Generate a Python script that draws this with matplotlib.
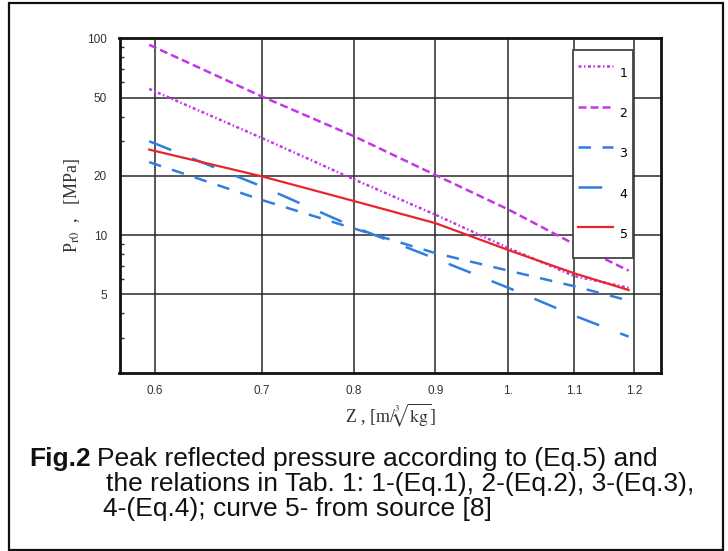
import numpy as np
import matplotlib.pyplot as plt
from matplotlib.ticker import FixedLocator, FixedFormatter, NullFormatter
from matplotlib.patches import Rectangle

plt.rcParams['mathtext.fontset'] = 'stix'

# Z values and peak reflected pressure [MPa]
z = [0.595, 0.7, 0.8, 0.9, 1.0, 1.1, 1.19]
p1 = [55.3, 31.2, 19.2, 12.7, 8.6, 6.2, 5.4]
p2 = [92.7, 50.7, 31.8, 20.2, 13.5, 9.0, 6.6]
p3 = [23.5, 15.1, 10.8, 8.1, 6.6, 5.5, 4.65]
p4 = [30.0, 17.7, 11.0, 7.6, 5.4, 3.9, 3.05]
p5 = [27.2, 19.9, 14.9, 11.5, 8.4, 6.4, 5.26]

xticks = [0.6, 0.7, 0.8, 0.9, 1.0, 1.1, 1.2]
xlabels = ['0.6', '0.7', '0.8', '0.9', '1.', '1.1', '1.2']
yticks = [5, 10, 20, 50, 100]
ylabels = ['5', '10', '20', '50', '100']
yminor = [2, 3, 4, 6, 7, 8, 9, 30, 40, 60, 70, 80, 90]

W, H = 728, 551
fig = plt.figure(figsize=(W / 100, H / 100), dpi=100)
ax = fig.add_axes([119.5 / W, 1 - 372.7 / H, (661 - 119.5) / W, (372.7 - 38.3) / H])

mag = '#c535e8'
blue = '#2f7ee0'
red = '#e8252a'
lw = 1.8
ax.plot(z, p1, color=mag, lw=lw, dashes=(1.2, 1.0, 0.6, 1.0), label='1')
ax.plot(z, p2, color=mag, lw=lw, dashes=(3.2, 1.6), label='2')
ax.plot(z, p3, color=blue, lw=lw, dashes=(5.0, 4.6), label='3')
ax.plot(z, p4, color=blue, lw=lw, dashes=(9.5, 9.0), label='4')
ax.plot(z, p5, color=red, lw=1.6, label='5')

ax.set_xscale('log')
ax.set_yscale('log')
ax.set_xlim(0.57, 1.247)
ax.set_ylim(2.0, 100)

ax.xaxis.set_major_locator(FixedLocator(xticks))
ax.xaxis.set_major_formatter(FixedFormatter(xlabels))
ax.xaxis.set_minor_locator(FixedLocator([]))
ax.yaxis.set_major_locator(FixedLocator(yticks))
ax.yaxis.set_major_formatter(FixedFormatter(ylabels))
ax.yaxis.set_minor_locator(FixedLocator(yminor))
ax.yaxis.set_minor_formatter(NullFormatter())

ax.tick_params(axis='both', which='major', length=0, labelsize=8.5, labelcolor='#333333')
ax.tick_params(axis='x', which='major', pad=9)
ax.tick_params(axis='y', which='major', pad=9)
ax.tick_params(axis='y', which='minor', direction='in', length=3, width=1, color='#333333')
for t in ax.get_xticklabels() + ax.get_yticklabels():
    t.set_family('Liberation Sans')

ax.grid(True, which='major', color='#2a2a2a', lw=1.1)
for s in ax.spines.values():
    s.set_linewidth(2.0)
    s.set_color('#111111')

ax.set_xlabel(r'Z , [m/$\sqrt[3]{\mathrm{kg}}$]', fontsize=13, family='Liberation Serif',
              color='#333333', labelpad=3)
ax.set_ylabel(r'P$_{\mathrm{r0}}$  ,   [MPa]', fontsize=13, family='Liberation Serif',
              color='#333333', labelpad=4)

leg = ax.legend(loc='upper left', bbox_to_anchor=((572.7 - 119.5) / (661 - 119.5), 0.965),
                borderaxespad=0, fontsize=9, frameon=True, fancybox=False, framealpha=1,
                edgecolor='#444444', borderpad=0.45, handleheight=4.1, labelspacing=0.3,
                handlelength=2.8, handletextpad=0.5)
leg.get_frame().set_linewidth(1.3)

cap = dict(fontsize=19, family='Liberation Sans', va='center', ha='left', color='#111111')
t0 = fig.text(29 / W, 1 - 459 / H, 'Fig.2', weight='bold', **cap)
r = fig.canvas.get_renderer()
x1 = t0.get_window_extent(r).x1 + 6
fig.text(x1 / W, 1 - 459 / H, 'Peak reflected pressure according to (Eq.5) and', **cap)
fig.text(106 / W, 1 - 484 / H, 'the relations in Tab. 1: 1-(Eq.1), 2-(Eq.2), 3-(Eq.3),', **cap)
fig.text(103 / W, 1 - 509 / H, '4-(Eq.4); curve 5- from source [8]', **cap)

fig.patches.append(Rectangle((9 / W, 1 / H), (722.7 - 9) / W, (549 - 2) / H,
                             transform=fig.transFigure, fill=False, lw=1.6, ec='#111111'))

fig.savefig('out.png', dpi=100)
